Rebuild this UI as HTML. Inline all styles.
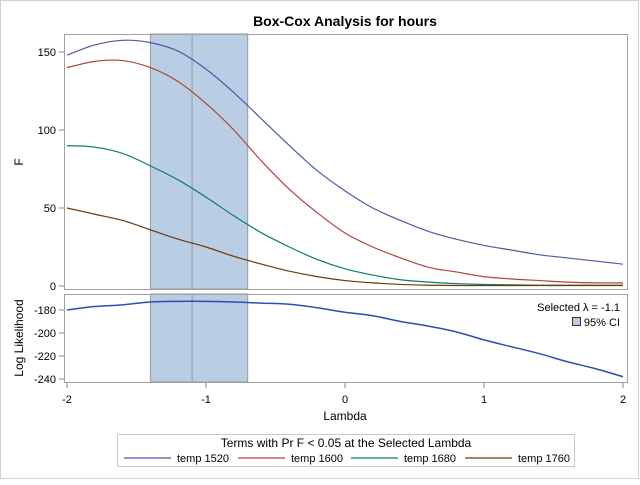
<!DOCTYPE html>
<html><head><meta charset="utf-8"><style>
body{margin:0;background:#fff;font-family:"Liberation Sans",sans-serif}
svg text{font-family:"Liberation Sans",sans-serif}
</style></head><body>
<svg width="640" height="480" viewBox="0 0 640 480" xmlns="http://www.w3.org/2000/svg">
<rect x="0.5" y="0.5" width="638" height="478" fill="#fff" stroke="#d0d0d0"/>
<text x="345" y="26" text-anchor="middle" font-size="14" font-weight="bold">Box-Cox Analysis for hours</text>
<g id="g"></g>
</svg>
<script>
const lambdas=[-2,-1.8,-1.6,-1.4,-1.2,-1,-0.8,-0.6,-0.4,-0.2,0,0.2,0.4,0.6,0.8,1,1.2,1.4,1.6,1.8,2];
const f1520=[148,154.5,157.5,156,150.5,139,124,107,90,74,61,50,42,35,30,26,23,20,18,16,14];
const f1600=[140,144,144.5,140,131,117,100,80,62,47,34,25,18,12,9,6,4.5,3.5,2.5,2,2];
const f1680=[90,89,85,77,68,57,45,34,25,17,11,7,4,2.5,1.5,1,0.7,0.5,0.5,0.5,0.5];
const f1760=[50,46,42,36,30,25,19,14,9.5,6,3.5,2,1,0.5,0.3,0.3,0.3,0.3,0.3,0.3,0.3];
const logL=[-180,-177,-175.5,-173,-172.5,-172.5,-173,-174,-175,-178,-182,-185,-190,-194,-199,-206,-212,-218,-225,-231,-238];
const xTicks=[-2,-1,0,1,2];
const fTicks=[0,50,100,150];
const llTicks=[-180,-200,-220,-240];
const ciLow=-1.4, ciHigh=-0.7, selected=-1.1;
const seriesNames=["temp 1520","temp 1600","temp 1680","temp 1760"];
const colors=["#4a5ba8","#b0453a","#0f7a6e","#6b3a0a"];

const NS="http://www.w3.org/2000/svg";
const g=document.getElementById('g');
const X=v=>345+v*139;
const YF=v=>286-v*1.56;
const YL=v=>310-(v+180)*1.15;
function el(t,a,txt){const e=document.createElementNS(NS,t);for(const k in a)e.setAttribute(k,a[k]);if(txt!==undefined)e.textContent=txt;g.appendChild(e);return e;}
function smooth(pts){let d='M'+pts[0][0]+','+pts[0][1];for(let i=0;i<pts.length-1;i++){const p0=pts[i-1]||pts[i],p1=pts[i],p2=pts[i+1],p3=pts[i+2]||p2;
d+=' C'+(p1[0]+(p2[0]-p0[0])/6)+','+(p1[1]+(p2[1]-p0[1])/6)+' '+(p2[0]-(p3[0]-p1[0])/6)+','+(p2[1]-(p3[1]-p1[1])/6)+' '+p2[0]+','+p2[1];}return d;}

for(const [y0,y1,n] of [[34,289,'ci-band-top'],[294,382,'ci-band-bottom']]){
  const r=el('rect',{x:X(ciLow),y:y0,width:X(ciHigh)-X(ciLow),height:y1-y0,fill:'#b9cde5',stroke:'#999'});
  
  
  const l=el('line',{x1:X(selected),x2:X(selected),y1:y0,y2:y1,stroke:'#999'});
  
  
}
[f1520,f1600,f1680,f1760].forEach((s,i)=>{
  const p=el('path',{d:smooth(s.map((v,j)=>[X(lambdas[j]),YF(v)])),fill:'none',stroke:colors[i],'stroke-width':1.2});
  
  
});
const ll=el('path',{d:smooth(logL.map((v,j)=>[X(lambdas[j]),YL(v)])),fill:'none',stroke:'#2a4fb0','stroke-width':1.5});


const p1=el('rect',{x:64.5,y:34.5,width:563,height:255,fill:'none',stroke:'#a0a0a0'});


const p2=el('rect',{x:64.5,y:294.5,width:563,height:88,fill:'none',stroke:'#a0a0a0'});


fTicks.forEach(v=>{el('line',{x1:59,x2:64,y1:YF(v),y2:YF(v),stroke:'#888'});
  const t=el('text',{x:56,y:YF(v)+4,'text-anchor':'end','font-size':11},v);
  
  });
llTicks.forEach(v=>{el('line',{x1:59,x2:64,y1:YL(v),y2:YL(v),stroke:'#888'});
  const t=el('text',{x:56,y:YL(v)+4,'text-anchor':'end','font-size':11},v);
  
  });
xTicks.forEach(v=>{el('line',{x1:X(v),x2:X(v),y1:383,y2:388,stroke:'#888'});
  const t=el('text',{x:X(v),y:403,'text-anchor':'middle','font-size':11},v);
  
  });
const xt=el('text',{x:345,y:420,'text-anchor':'middle','font-size':12},'Lambda');


const yt=el('text',{x:0,y:0,'text-anchor':'middle','font-size':12,transform:'translate(23,162) rotate(-90)'},'F');


const yt2=el('text',{x:0,y:0,'text-anchor':'middle','font-size':12,transform:'translate(23,338) rotate(-90)'},'Log Likelihood');


const s1=el('text',{x:620,y:311,'text-anchor':'end','font-size':11},'Selected λ = -1.1');


const sw=el('rect',{x:572.5,y:317.5,width:8,height:8,fill:'#b9cde5',stroke:'#333'});


const s2=el('text',{x:620,y:326,'text-anchor':'end','font-size':11},'95% CI');


const lb=el('rect',{x:117.5,y:434.5,width:457,height:32,fill:'none',stroke:'#c8c8c8'});


const lt=el('text',{x:346,y:447,'text-anchor':'middle','font-size':12},'Terms with Pr F < 0.05 at the Selected Lambda');


const lx=[124,238,351,465];
seriesNames.forEach((n,i)=>{
  const l=el('line',{x1:lx[i],x2:lx[i]+47,y1:458,y2:458,stroke:colors[i],'stroke-width':1.2});
  
  
  const t=el('text',{x:lx[i]+53,y:462,'font-size':11},n);
  
  
});
</script>
</body></html>
